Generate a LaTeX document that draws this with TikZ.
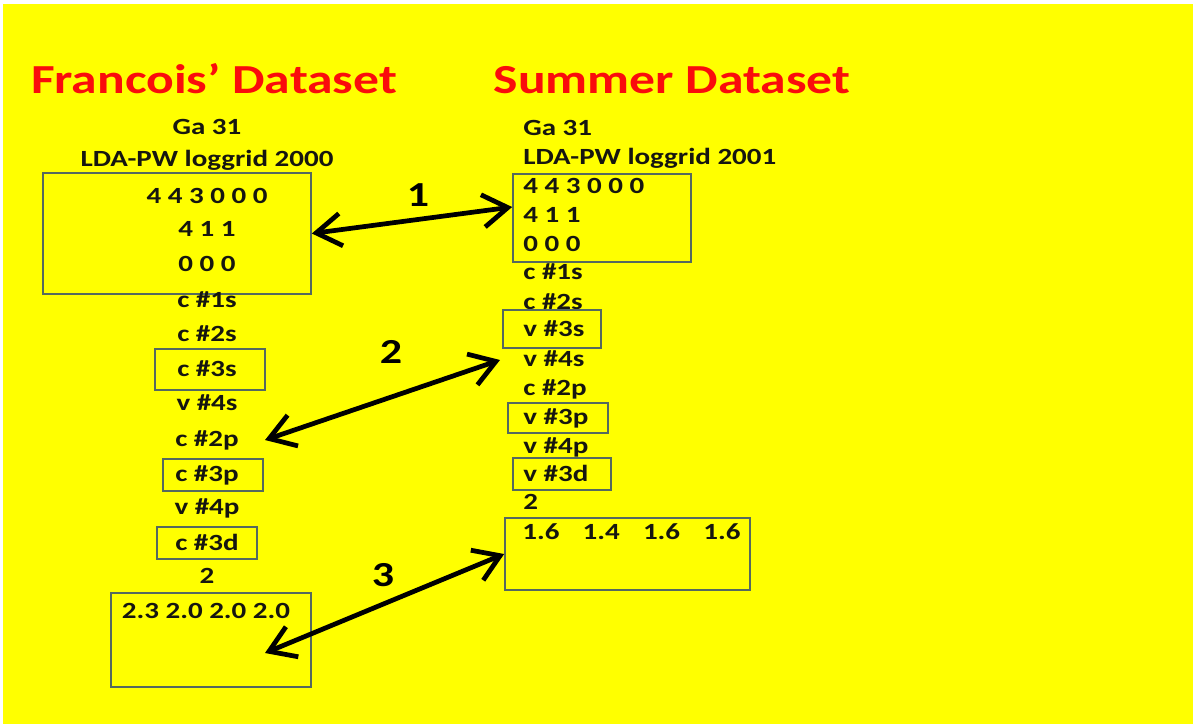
\documentclass[tikz,border=0pt]{standalone}
\usepackage{fontspec}
\setmainfont{Carlito}[FakeStretch=1.25]
\usetikzlibrary{arrows.meta}
\definecolor{slide}{RGB}{255,255,0}
\definecolor{titlered}{RGB}{250,12,12}
\definecolor{boxline}{RGB}{85,105,95}
\definecolor{ink}{RGB}{22,22,16}

\begin{document}
\begin{tikzpicture}[x=0.02cm,y=-0.02cm,
  every node/.style={font=\bfseries\fontsize{13.2}{15}\selectfont,text=ink,inner sep=0pt,
    text height=9.5pt,text depth=2.5pt},
  heading/.style={font=\bfseries\fontsize{23.5}{28}\selectfont,text=titlered},
  tag/.style={font=\bfseries\fontsize{20}{24}\selectfont,text=black,text height=13pt,text depth=0pt},
  frame/.style={draw=boxline,line width=1pt,rectangle},
  link/.style={{Straight Barb[length=5mm,width=6.5mm]}-{Straight Barb[length=5mm,width=6.5mm]},
    line width=2.7pt,black}]
\useasboundingbox (0,0) rectangle (1193,724);
\fill[white] (0,0) rectangle (1193,724);
\fill[slide] (3,4) rectangle (1193,724);

% titles
\node[heading,anchor=base] (ftitle) at (214,93) {Francois’ Dataset};
\node[heading,anchor=base] (stitle) at (672,93) {Summer Dataset};

% Francois column
\node (gaL) at (207,128) {Ga 31};
\node (ldaL) at (207,160) {LDA-PW loggrid 2000};
\node[frame,minimum width=5.36cm,minimum height=2.42cm] (lbox) at (177,233.5) {};
\node (occaL) at (207,197) {4 4 3 0 0 0};
\node (occbL) at (207,230) {4 1 1};
\node (occcL) at (207,265) {0 0 0};
\node (c1sL) at (207,301) {c \#1s};
\node (c2sL) at (207,335) {c \#2s};
\node[frame,minimum width=2.2cm,minimum height=0.82cm] (b3sL) at (210,369.5) {};
\node (c3sL) at (207,370) {c \#3s};
\node (v4sL) at (207,404) {v \#4s};
\node (c2pL) at (207,440) {c \#2p};
\node[frame,minimum width=2cm,minimum height=0.64cm] (b3pL) at (213,475) {};
\node (c3pL) at (207,475) {c \#3p};
\node (v4pL) at (207,508) {v \#4p};
\node[frame,minimum width=2cm,minimum height=0.64cm] (b3dL) at (207,543) {};
\node (c3dL) at (207,544) {c \#3d};
\node (twoL) at (207,577) {2};
\node[frame,minimum width=4cm,minimum height=1.88cm] (lnum) at (211,640) {};
\node (radL) at (206,612) {2.3 2.0 2.0 2.0};
\coordinate (lnumin) at (265,653);

% Summer column
\node[anchor=west] (gaR) at (523,129) {Ga 31};
\node[anchor=west] (ldaR) at (523,158) {LDA-PW loggrid 2001};
\node[frame,minimum width=3.56cm,minimum height=1.76cm] (rbox) at (602,218) {};
\node[anchor=west] (occaR) at (523,187) {4 4 3 0 0 0};
\node[anchor=west] (occbR) at (523,216) {4 1 1};
\node[anchor=west] (occcR) at (523,245) {0 0 0};
\node[anchor=west] (c1sR) at (523,273) {c \#1s};
\node[anchor=west] (c2sR) at (523,303) {c \#2s};
\node[frame,minimum width=1.96cm,minimum height=0.76cm] (b3sR) at (552,329) {};
\node[anchor=west] (v3sR) at (523,330) {v \#3s};
\node[anchor=west] (v4sR) at (523,360) {v \#4s};
\node[anchor=west] (c2pR) at (523,389) {c \#2p};
\node[frame,minimum width=2cm,minimum height=0.6cm] (b3pR) at (558,418) {};
\node[anchor=west] (v3pR) at (523,418) {v \#3p};
\node[anchor=west] (v4pR) at (523,447) {v \#4p};
\node[frame,minimum width=1.96cm,minimum height=0.64cm] (b3dR) at (562,474) {};
\node[anchor=west] (v3dR) at (523,475) {v \#3d};
\node[anchor=west] (twoR) at (523,503) {2};
\node[frame,minimum width=4.9cm,minimum height=1.44cm] (rnum) at (627.5,554) {};
\node[anchor=west] (radR) at (522,533) {1.6\quad 1.4\quad 1.6\quad 1.6};

% links
\draw[link] (lbox.east) -- ([yshift=0.22cm]rbox.west);
\draw[link] ([xshift=0.52cm]c2pL.east) -- ([xshift=-0.46cm]v4sR.west);
\draw[link] (lnumin) -- (rnum.west);
\node[tag] (one) at (418,195) {1};
\node[tag] (two) at (391,352) {2};
\node[tag] (three) at (383,575) {3};
\end{tikzpicture}
\end{document}
